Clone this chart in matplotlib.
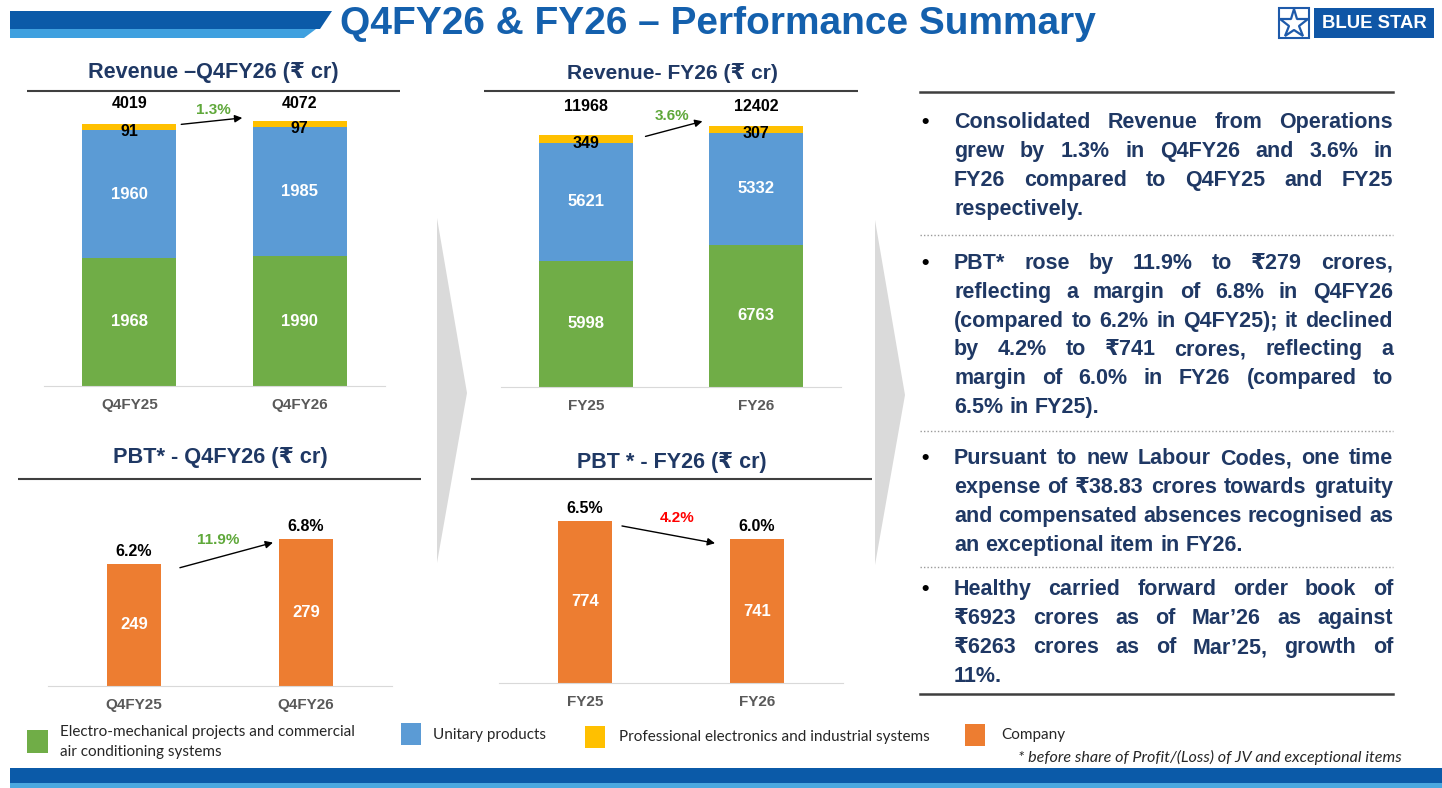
import matplotlib
matplotlib.use('Agg')
import matplotlib.pyplot as plt
from matplotlib import font_manager as fm
from matplotlib.patches import Polygon, Rectangle
from matplotlib.transforms import offset_copy, blended_transform_factory

W, H = 1442, 788

# ---- data ----
rev_q_cats = ['Q4FY25', 'Q4FY26']
rev_q_emp = [1968, 1990]          # electro-mechanical projects
rev_q_unitary = [1960, 1985]
rev_q_pes = [91, 97]              # professional electronics
rev_q_total = [4019, 4072]
rev_q_growth = '1.3%'

rev_y_cats = ['FY25', 'FY26']
rev_y_emp = [5998, 6763]
rev_y_unitary = [5621, 5332]
rev_y_pes = [349, 307]
rev_y_total = [11968, 12402]
rev_y_growth = '3.6%'

pbt_q_cats = ['Q4FY25', 'Q4FY26']
pbt_q = [249, 279]
pbt_q_margin = ['6.2%', '6.8%']
pbt_q_growth = '11.9%'

pbt_y_cats = ['FY25', 'FY26']
pbt_y = [774, 741]
pbt_y_margin = ['6.5%', '6.0%']
pbt_y_growth = '4.2%'

bullets = [
    ['Consolidated Revenue from Operations',
     'grew by 1.3% in Q4FY26 and 3.6% in',
     'FY26 compared to Q4FY25 and FY25',
     'respectively.'],
    ['PBT* rose by 11.9% to ₹279 crores,',
     'reflecting a margin of 6.8% in Q4FY26',
     '(compared to 6.2% in Q4FY25); it declined',
     'by 4.2% to ₹741 crores, reflecting a',
     'margin of 6.0% in FY26 (compared to',
     '6.5% in FY25).'],
    ['Pursuant to new Labour Codes, one time',
     'expense of ₹38.83 crores towards gratuity',
     'and compensated absences recognised as',
     'an exceptional item in FY26.'],
    ['Healthy carried forward order book of',
     '₹6923 crores as of Mar’26 as against',
     '₹6263 crores as of Mar’25, growth of',
     '11%.'],
]

legend_labels = ['Electro-mechanical projects and commercial\nair conditioning systems',
                 'Unitary products',
                 'Professional electronics and industrial systems',
                 'Company']

GREEN, BLUE, YELLOW, ORANGE = '#70AD47', '#5B9BD5', '#FFC000', '#ED7D31'
NAVY = '#1F3864'
DARKBLUE = '#0B5AA8'

have = {f.name for f in fm.fontManager.ttflist}
def fonts(*names):
    return [n for n in names if n in have] + ['DejaVu Sans']

ARIAL = fonts('Liberation Sans', 'Arimo')
NARROW = fonts('Liberation Sans Narrow', 'Liberation Sans')
CAL = fonts('Lato', 'Open Sans')

fig = plt.figure(figsize=(W / 100, H / 100), dpi=100)
fig.patch.set_facecolor('white')
bg = fig.add_axes([0, 0, 1, 1])
bg.set_xlim(0, W)
bg.set_ylim(H, 0)
bg.axis('off')
R = fig.canvas.get_renderer()

def px_width(t):
    return t.get_window_extent(R).width

def fit(t, width):
    t.set_fontsize(t.get_fontsize() * width / px_width(t))

# ---- header ----
bg.add_patch(Polygon([(10, 11), (332, 11), (320, 29), (10, 29)], color=DARKBLUE, lw=0))
bg.add_patch(Polygon([(10, 29), (316, 29), (304, 38), (10, 38)], color='#3FA0DF', lw=0))
t = bg.text(718, 24, 'Q4FY26 & FY26 – Performance Summary', ha='center', va='center',
            fontsize=28, fontweight='bold', color='#1460AD', family=NARROW)
fit(t, 757)

# logo
bg.add_patch(Rectangle((1279, 8), 30, 30, fill=False, ec='#1E5AAA', lw=1.5))
bg.plot(1294, 23.5, marker='*', ms=21, mfc='white', mec='#1E5AAA', mew=1.6)
bg.add_patch(Rectangle((1314, 8), 120, 30, color='#0F56A6', lw=0))
t = bg.text(1374, 23.5, 'BLUE STAR', ha='center', va='center', color='white',
            fontsize=10, fontweight='bold', family=ARIAL)
fit(t, 104)

# footer band
bg.add_patch(Rectangle((10, 768), W - 10, 15, color=DARKBLUE, lw=0))
bg.add_patch(Rectangle((10, 783), W - 10, 5, color='#4AA8E0', lw=0))

# grey chevrons
bg.add_patch(Polygon([(437, 218), (467, 393), (437, 563)], color='#DADADA', lw=0))
bg.add_patch(Polygon([(875, 220), (905, 395), (875, 565)], color='#DADADA', lw=0))

# chart titles + rules
titles = [(213, 72, 'Revenue –Q4FY26 (₹ cr)', 250, NARROW, (27, 400), 91),
          (672, 73, 'Revenue- FY26 (₹ cr)', 211, ARIAL, (484, 858), 91),
          (220, 457, 'PBT* - Q4FY26 (₹ cr)', 215, ARIAL, (18, 421), 479),
          (672, 462, 'PBT * - FY26 (₹ cr)', 190, ARIAL, (471, 872), 479)]
for cx, cy, txt, wd, fam, (x0, x1), ly in titles:
    t = bg.text(cx, cy, txt, ha='center', va='center', fontsize=16,
                fontweight='bold', color=NAVY, family=fam)
    fit(t, wd)
    bg.plot([x0, x1], [ly, ly], color='#3F3F3F', lw=1.5, solid_capstyle='butt')

# ---- right text panel ----
TX0, TX1 = 954, 1393
bg.plot([920, 1393], [92, 92], color='#3F3F3F', lw=1.8)
bg.plot([920, 1393], [694, 694], color='#3F3F3F', lw=1.8)
for yy in [235, 431, 567]:
    bg.plot([920, 1393], [yy, yy], color='#9A9A9A', lw=1, ls=(0, (1, 1.5)))

widths = []
for para in bullets:
    for line in para[:-1]:
        t = bg.text(0, 0, line, fontsize=14, fontweight='bold', family=ARIAL)
        widths.append(px_width(t))
        t.remove()
body_size = 14 * (TX1 - TX0) / max(widths)

ta = bg.text(0, 0, 'a a', fontsize=body_size, fontweight='bold', family=ARIAL)
tb = bg.text(0, 0, 'aa', fontsize=body_size, fontweight='bold', family=ARIAL)
space = px_width(ta) - px_width(tb)
ta.remove(); tb.remove()

def justify(line, y, last):
    words = line.split(' ')
    ts = [bg.text(0, y, w, fontsize=body_size, fontweight='bold', color=NAVY,
                  family=ARIAL, va='baseline') for w in words]
    ws = [px_width(t) for t in ts]
    gap = space if last else (TX1 - TX0 - sum(ws)) / (len(words) - 1)
    x = TX0
    for t, w in zip(ts, ws):
        t.set_x(x)
        x += w + gap

starts = [121, 261.7, 457.3, 588.3]
step = 28.9
for para, y0 in zip(bullets, starts):
    bg.text(925, y0 + 7, '•', fontsize=body_size, color='black', family=ARIAL,
            va='baseline', ha='center', fontweight='bold')
    for i, line in enumerate(para):
        justify(line, y0 + 7 + i * step, i == len(para) - 1)

# ---- legend ----
leg_boxes = [(27, 730, 21, 23), (401, 723, 20, 22), (585, 726, 20, 22), (965, 724, 20, 22)]
leg_text = [(60, 742), (433, 735), (619, 737), (1001, 735)]
for (bx, by, bw, bh), col in zip(leg_boxes, [GREEN, BLUE, YELLOW, ORANGE]):
    bg.add_patch(Rectangle((bx, by), bw, bh, color=col, lw=0))
for (tx, ty), lab in zip(leg_text, legend_labels):
    bg.text(tx, ty, lab, fontsize=11, color='#262626', family=CAL, va='center',
            linespacing=1.55)
t = bg.text(1402, 757, '* before share of Profit/(Loss) of JV and exceptional items',
            ha='right', va='center', fontsize=10.8, style='italic', color='#262626', family=CAL)
fit(t, 382)

# ---- charts ----
def chart_axes(left, right, top, base):
    ax = fig.add_axes([left / W, 1 - base / H, (right - left) / W, (base - top) / H])
    ax.set_facecolor('none')
    for s in ['top', 'right', 'left']:
        ax.spines[s].set_visible(False)
    ax.spines['bottom'].set_color('#D9D9D9')
    ax.set_yticks([])
    ax.tick_params(axis='x', length=0, pad=9)
    ax.set_xlim(-0.5, 1.5)
    return ax

def arrow(ax, xs, ys, dys):
    ax.annotate('', xy=(xs[1], ys[1]), xycoords=offset_copy(ax.transData, fig=fig, y=dys[1], units='dots'),
                xytext=(xs[0], ys[0]), textcoords=offset_copy(ax.transData, fig=fig, y=dys[0], units='dots'),
                arrowprops=dict(arrowstyle='-|>', color='black', lw=1, mutation_scale=11,
                                shrinkA=0, shrinkB=0))

def revenue_chart(ax, cats, emp, uni, pes, totals, growth, ymax, tot_frac, gpos, axs, dys):
    x = [0, 1]
    ax.set_ylim(0, ymax)
    ax.set_xticks(x, cats, fontsize=11, color='#595959', fontweight='bold', family=ARIAL)
    bottom = [0, 0]
    for vals, col in [(emp, GREEN), (uni, BLUE), (pes, YELLOW)]:
        ax.bar(x, vals, 0.55, bottom=bottom, color=col, lw=0)
        for xi, b, v in zip(x, bottom, vals):
            if col == YELLOW:
                ax.annotate(str(v), (xi, b + v / 2), xytext=(0, -3), textcoords='offset points',
                            ha='center', va='center', fontsize=11.5, fontweight='bold',
                            color='black', family=ARIAL)
            else:
                ax.text(xi, b + v / 2, str(v), ha='center', va='center', fontsize=12,
                        fontweight='bold', color='white', family=ARIAL)
        bottom = [b + v for b, v in zip(bottom, vals)]
    tr = blended_transform_factory(ax.transData, ax.transAxes)
    for xi, tot in zip(x, totals):
        ax.text(xi, tot_frac, str(tot), transform=tr, ha='center', va='center',
                fontsize=11.5, fontweight='bold', color='black', family=ARIAL)
    ax.text(gpos[0], gpos[1], growth, transform=tr, ha='center', va='center',
            fontsize=11, fontweight='bold', color='#5FA83A', family=ARIAL)
    arrow(ax, axs, bottom, dys)

def pbt_chart(ax, cats, vals, margins, growth, gcol, ylim, gpos, axs, dys):
    x = [0, 1]
    ax.set_ylim(*ylim)
    ax.set_xticks(x, cats, fontsize=11, color='#595959', fontweight='bold', family=ARIAL)
    ax.bar(x, vals, 0.315, color=ORANGE, lw=0)
    for xi, v, m in zip(x, vals, margins):
        ax.text(xi, (ylim[0] + v) / 2, str(v), ha='center', va='center', fontsize=12,
                fontweight='bold', color='white', family=ARIAL)
        ax.annotate(m, (xi, v), xytext=(0, 9), textcoords='offset points', ha='center',
                    va='center', fontsize=11.5, fontweight='bold', color='black', family=ARIAL)
    tr = blended_transform_factory(ax.transData, ax.transAxes)
    ax.text(gpos[0], gpos[1], growth, transform=tr, ha='center', va='center',
            fontsize=11, fontweight='bold', color=gcol, family=ARIAL)
    arrow(ax, axs, vals, dys)

ax1 = chart_axes(44, 385, 95, 386)
revenue_chart(ax1, rev_q_cats, rev_q_emp, rev_q_unitary, rev_q_pes, rev_q_total, rev_q_growth,
              4470, 0.971, (0.493, 0.948), (0.305, 0.663), (0, 3))

ax2 = chart_axes(501, 841, 95, 387)
revenue_chart(ax2, rev_y_cats, rev_y_emp, rev_y_unitary, rev_y_pes, rev_y_total, rev_y_growth,
              13890, 0.959, (0.503, 0.928), (0.35, 0.685), (-1, 5))

ax3 = chart_axes(48, 392, 490, 686)
pbt_chart(ax3, pbt_q_cats, pbt_q, pbt_q_margin, pbt_q_growth, '#5FA83A', (103, 337),
          (0.488, 0.745), (0.267, 0.808), (-4, -4))

ax4 = chart_axes(499, 843, 490, 683)
pbt_chart(ax4, pbt_y_cats, pbt_y, pbt_y_margin, pbt_y_growth, '#FF0000', (481, 830),
          (0.535, 0.855), (0.215, 0.756), (-5, -4))

fig.savefig('out.png', dpi=100)
